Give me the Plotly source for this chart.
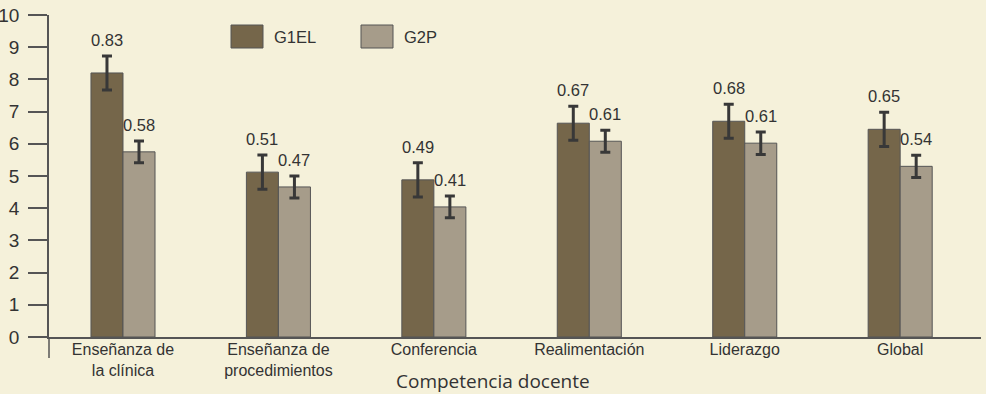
import plotly.graph_objects as go

categories = ["Enseñanza de<br>la clínica", "Enseñanza de<br>procedimientos", "Conferencia",
              "Realimentación", "Liderazgo", "Global"]
series_names = ["G1EL", "G2P"]
g1el_values = [8.20, 5.12, 4.88, 6.64, 6.70, 6.45]
g2p_values = [5.75, 4.66, 4.04, 6.08, 6.02, 5.30]
g1el_err = [0.53, 0.53, 0.53, 0.53, 0.53, 0.53]
g2p_err = [0.34, 0.34, 0.34, 0.34, 0.35, 0.345]
g1el_labels = ["0.83", "0.51", "0.49", "0.67", "0.68", "0.65"]
g2p_labels = ["0.58", "0.47", "0.41", "0.61", "0.61", "0.54"]
y_ticks = list(range(0, 11))
x_title = "Competencia docente"

bg = "#F5F1DA"
col1 = "#75664A"
col2 = "#A69C8A"
axis_col = "#555555"
txt_col = "#333333"
sans = "Liberation Sans, Arial, sans-serif"
narrow = "Liberation Sans Narrow, Arial Narrow, Liberation Sans, sans-serif"

fig = go.Figure()
for name, vals, errs, col in [(series_names[0], g1el_values, g1el_err, col1),
                              (series_names[1], g2p_values, g2p_err, col2)]:
    fig.add_trace(go.Bar(
        x=categories, y=vals, name=name, showlegend=False,
        marker=dict(color=col, line=dict(color="#555555", width=1)),
        error_y=dict(type="data", array=errs, visible=True, color="#383838",
                     thickness=3, width=5),
    ))

annotations = []
for i in range(len(categories)):
    for vals, errs, labs, shift in [(g1el_values, g1el_err, g1el_labels, -16),
                                    (g2p_values, g2p_err, g2p_labels, 16)]:
        annotations.append(dict(
            x=i, y=vals[i] + errs[i], xref="x", yref="y", text=labs[i],
            showarrow=False, xshift=shift, yanchor="bottom", yshift=5,
            font=dict(family=narrow, size=16.5, color=txt_col)))

# custom legend with large swatches
shapes = []
legend_x = [231, 361]
for k, (name, col) in enumerate(zip(series_names, [col1, col2])):
    x0 = (legend_x[k] - 49) / 932
    x1 = (legend_x[k] + 32 - 49) / 932
    shapes.append(dict(type="rect", xref="paper", yref="paper",
                       x0=x0, x1=x1, y0=(337 - 48) / 322, y1=(337 - 25) / 322,
                       fillcolor=col, line=dict(color="#555555", width=1)))
    annotations.append(dict(x=(legend_x[k] + 41 - 49) / 932, y=(337 - 37) / 322,
                            xref="paper", yref="paper", text=name, showarrow=False,
                            xanchor="left", yanchor="middle",
                            font=dict(family=sans, size=16.5, color=txt_col)))

# y-axis line extension below zero
shapes.append(dict(type="line", xref="paper", yref="paper", x0=0, x1=0,
                   y0=-21 / 322, y1=0, line=dict(color=axis_col, width=1.5)))

annotations.append(dict(x=(493 - 49) / 932, y=(337 - 381) / 322, xref="paper", yref="paper",
                        text=x_title, showarrow=False, xanchor="center", yanchor="middle",
                        font=dict(family="Open Sans, sans-serif", size=19, color=txt_col)))

fig.update_layout(
    width=986, height=394,
    margin=dict(l=49, r=5, t=15, b=57),
    paper_bgcolor=bg, plot_bgcolor=bg,
    barmode="group", bargap=0.588, bargroupgap=0,
    annotations=annotations, shapes=shapes,
    xaxis=dict(type="category", range=[-0.476, 5.52], showline=True, linecolor=axis_col,
               linewidth=1.5, ticks="", showgrid=False, zeroline=False, automargin=False,
               ticklabelstandoff=-3,
               tickfont=dict(family=sans, size=16, color=txt_col)),
    yaxis=dict(range=[0, 10], tickvals=y_ticks, ticks="outside", ticklen=19,
               tickcolor=axis_col, tickwidth=1.5, showline=True, linecolor=axis_col,
               linewidth=1.5, showgrid=False, zeroline=False, ticklabelstandoff=5,
               automargin=False,
               tickfont=dict(family=sans, size=19, color=txt_col)),
)

fig.write_html("out.html", post_script="document.body.style.margin='0';",
               config={"displayModeBar": False})
